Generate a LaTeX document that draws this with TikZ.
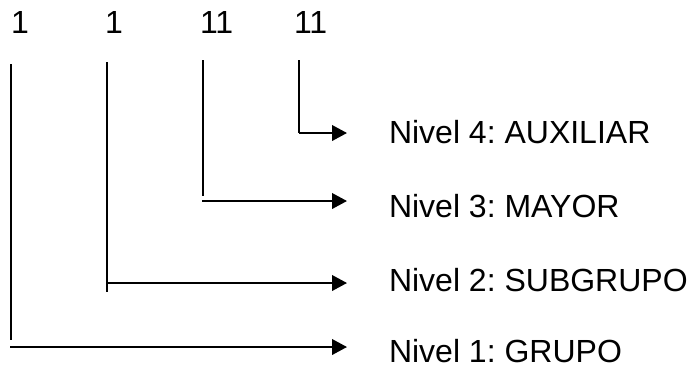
\documentclass[tikz,border=0pt]{standalone}
\usepackage{fontspec}
\setmainfont{Liberation Sans}
\frenchspacing
\usetikzlibrary{arrows.meta}

\begin{document}
\begin{tikzpicture}[x=0.5pt, y=-0.5pt, line width=1pt, draw=black]
    \tikzstyle{digit}=[anchor=base west, inner sep=0pt, font=\fontsize{16}{19}\selectfont]
    \tikzstyle{level}=[digit]
    \tikzstyle{arr}=[-{Triangle[length=7.5pt, width=7.8pt]}]

    \useasboundingbox (0,0) rectangle (691,372);

    % Account code digits
    \node[digit] (D-1) at (10,33) {1};
    \node[digit] (D-2) at (104,33) {1};
    \node[digit] (D-3) at (199,33) {11};
    \node[digit] (D-4) at (293,33) {11};

    % Level names
    \node[level] (N-4) at (388,143) {Nivel 4: AUXILIAR};
    \node[level] (N-3) at (388,217) {Nivel 3: MAYOR};
    \node[level] (N-2) at (388,291) {Nivel 2: SUBGRUPO};
    \node[level] (N-1) at (388,362) {Nivel 1: GRUPO};

    % Drop lines and arrows to each level
    \foreach \i/\x/\top/\bot/\y/\start in {1/11/64/340/347/10, 2/107/62/292/283/107, 3/203/60/196/201/202, 4/299/60/133/133/299}
    {
        \coordinate (T-\i) at (\x,\top);
        \coordinate (B-\i) at (\x,\bot);
        \coordinate (S-\i) at (\start,\y);
        \coordinate (E-\i) at (347,\y);
        \draw (T-\i) -- (B-\i);
        \draw[arr] (S-\i) -- (E-\i);
    }
\end{tikzpicture}
\end{document}
